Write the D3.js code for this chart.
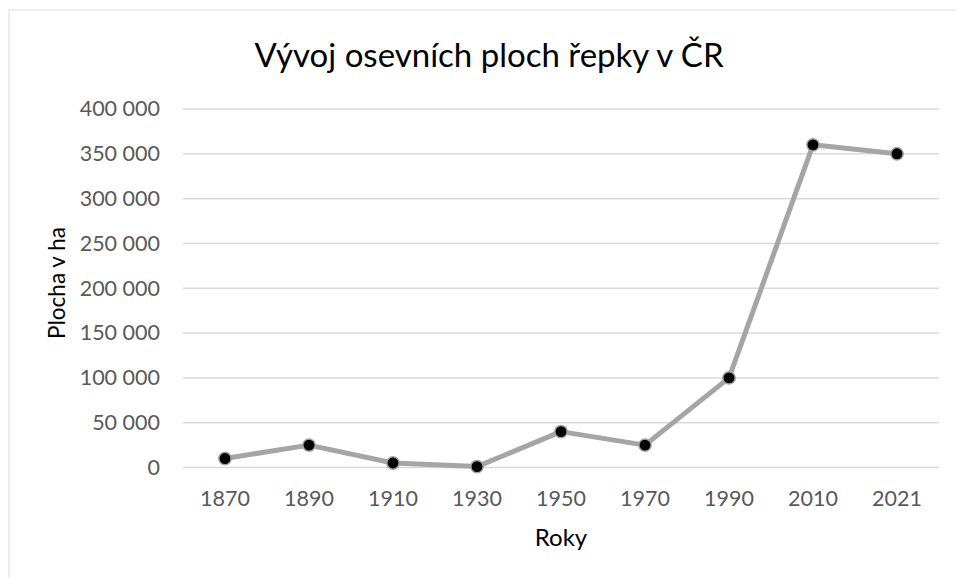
<!DOCTYPE html>
<html><head><meta charset="utf-8">
<script src="https://cdn.jsdelivr.net/npm/d3@7"></script>
<style>body{margin:0;background:#fff;}svg{display:block;}</style>
</head><body>
<script>
const categories = ["1870","1890","1910","1930","1950","1970","1990","2010","2021"];
const values = [10000, 25000, 5000, 1000, 40000, 25000, 100000, 360000, 350000];
const yTicks = [0, 50000, 100000, 150000, 200000, 250000, 300000, 350000, 400000];
const titleText = "Vývoj osevních ploch řepky v ČR";
const yTitle = "Plocha v ha";
const xTitle = "Roky";

(function () {
const W = 956, H = 578;
const font = "Lato, 'Open Sans', sans-serif";
const svg = d3.select("body").append("svg").attr("width", W).attr("height", H);
svg.append("rect").attr("x", 9).attr("y", 10).attr("width", 1000).attr("height", 700)
  .attr("fill", "#fff").attr("stroke", "#d9d9d9").attr("stroke-width", 1);

const mLeft = 183, mRight = 939, mTop = 109, mBottom = 467.5;
const x = d3.scaleBand().domain(categories).range([mLeft, mRight]);
const y = d3.scaleLinear().domain([0, 400000]).range([mBottom, mTop]);
const fmt = v => d3.format(",")(v).replace(/,/g, " ");

svg.append("g").selectAll("line").data(yTicks).join("line")
  .attr("x1", mLeft).attr("x2", mRight).attr("y1", d => y(d)).attr("y2", d => y(d))
  .attr("stroke", "#d9d9d9").attr("stroke-width", 1.5);

const yAxis = svg.append("g").attr("transform", `translate(${mLeft},0)`)
  .call(d3.axisLeft(y).tickValues(yTicks).tickFormat(fmt).tickSize(0).tickPadding(23));
yAxis.select(".domain").remove();
yAxis.selectAll("text").attr("font-family", font).attr("font-size", 21.5).attr("fill", "#595959");

const xAxis = svg.append("g").attr("transform", `translate(0,${mBottom})`)
  .call(d3.axisBottom(x).tickSize(0).tickPadding(23));
xAxis.select(".domain").remove();
xAxis.selectAll("text").attr("font-family", font).attr("font-size", 21.5).attr("fill", "#595959");

const cx = (d, i) => x(categories[i]) + x.bandwidth() / 2;
const line = d3.line().x(cx).y(d => y(d));
svg.append("path").datum(values).attr("d", line).attr("fill", "none")
  .attr("stroke", "#a5a5a5").attr("stroke-width", 5).attr("stroke-linejoin", "round");
svg.append("g").selectAll("circle").data(values).join("circle")
  .attr("cx", cx).attr("cy", d => y(d))
  .attr("r", 6.2).attr("fill", "#000").attr("stroke", "#a5a5a5").attr("stroke-width", 1.5);

svg.append("text").attr("x", 489).attr("y", 67).attr("text-anchor", "middle")
  .attr("font-family", font).attr("font-size", 33).attr("fill", "#000").text(titleText);
svg.append("text").attr("transform", `translate(65,283) rotate(-90)`).attr("text-anchor", "middle")
  .attr("font-family", font).attr("font-size", 22.5).attr("fill", "#000").text(yTitle);
svg.append("text").attr("x", 561).attr("y", 546).attr("text-anchor", "middle")
  .attr("font-family", font).attr("font-size", 24).attr("fill", "#000").text(xTitle);
})();
</script>
</body></html>
